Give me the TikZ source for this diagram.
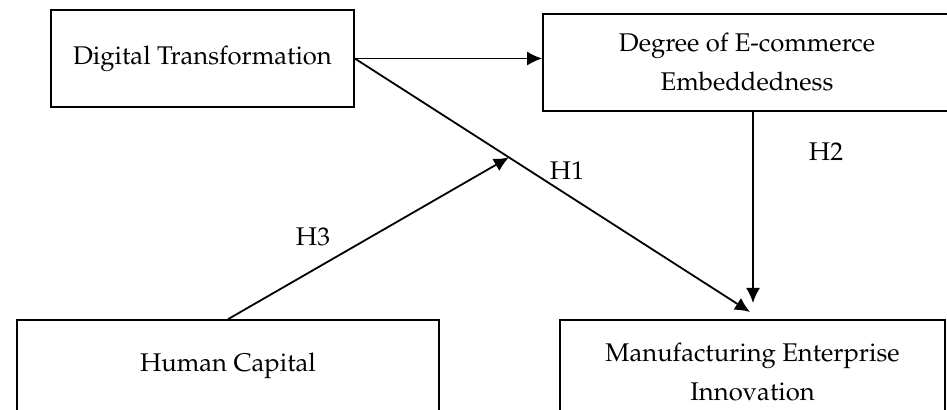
\documentclass[tikz,border=0pt]{standalone}
\usepackage[T1]{fontenc}
\usepackage{mathpazo}
\usetikzlibrary{arrows.meta,calc}

\begin{document}
\begin{tikzpicture}[
    x=0.5pt, y=-0.5pt,
    varbox/.style={rectangle, draw, line width=0.8pt, align=center, inner sep=0pt, font=\fontsize{12.8}{19.5}\selectfont},
    arrow/.style={-{Latex[length=7.5pt,width=7pt]}, line width=0.9pt},
    hlabel/.style={font=\fontsize{12.8}{15}\selectfont}
]
\useasboundingbox (0,0) rectangle (947,410);
\clip (0,0) rectangle (947,410);

% Variables
\node[varbox, minimum width=151.5pt, minimum height=48.5pt] (digital) at (202.5,58.5) {Digital Transformation};
\node[varbox, minimum width=204pt, minimum height=48.5pt] (ecommerce) at (747,62.5) {Degree of E-commerce\\Embeddedness};
\node[varbox, minimum width=211pt, minimum height=46pt] (human) at (228,366) {Human Capital};
\node[varbox, minimum width=192.5pt, minimum height=52pt] (innovation) at (752.5,372) {Manufacturing Enterprise\\Innovation};

% Arrow ends
\coordinate (h1end) at (750,312);
\coordinate (h2end) at (753,303);
\coordinate (h3end) at ($(digital.east)!0.39!(h1end)$);

% Arrows
\draw[arrow] (digital.east) -- (digital.east -| ecommerce.west);
\draw[arrow] (digital.east) -- (h1end);
\draw[arrow] (ecommerce.south -| h2end) -- (h2end);
\draw[arrow] (human.north) -- (h3end);

% Hypotheses
\node[hlabel] (h1) at (567,171) {H1};
\node[hlabel] (h2) at (826,152) {H2};
\node[hlabel] (h3) at (313,237) {H3};

\end{tikzpicture}
\end{document}
